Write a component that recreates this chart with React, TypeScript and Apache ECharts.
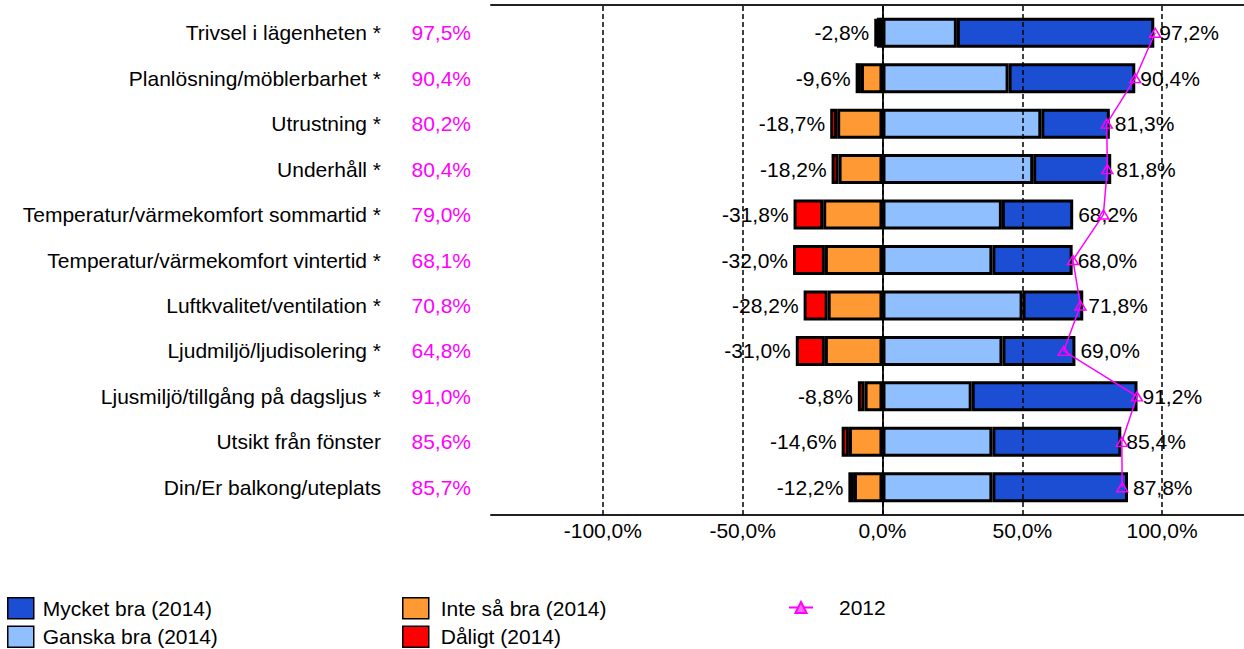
import React, { useEffect, useRef } from 'react';
import * as echarts from 'echarts';

const categories = [
  'Trivsel i lägenheten *',
  'Planlösning/möblerbarhet *',
  'Utrustning *',
  'Underhåll *',
  'Temperatur/värmekomfort sommartid *',
  'Temperatur/värmekomfort vintertid *',
  'Luftkvalitet/ventilation *',
  'Ljudmiljö/ljudisolering *',
  'Ljusmiljö/tillgång på dagsljus *',
  'Utsikt från fönster',
  'Din/Er balkong/uteplats',
];

const mycketBra = [70.6, 45.3, 24.5, 27.9, 25.5, 28.7, 21.7, 26.1, 59.3, 46.1, 48.5];
const ganskaBra = [26.6, 45.1, 56.8, 53.9, 42.7, 39.3, 50.1, 42.9, 31.9, 39.3, 39.3];
const inteSaBra = [2.0, 7.7, 16.2, 15.7, 21.2, 20.6, 19.6, 20.6, 6.4, 12.0, 10.2];
const daligt = [0.8, 1.9, 2.5, 2.5, 10.6, 11.4, 8.6, 10.4, 2.4, 2.6, 2.0];
const values2012 = [97.5, 90.4, 80.2, 80.4, 79.0, 68.1, 70.8, 64.8, 91.0, 85.6, 85.7];
const xTickValues = [-100, -50, 0, 50, 100];

const fmt = (v: number) => (Math.round(v * 10) / 10).toFixed(1).replace('.', ',') + '%';

export default function App() {
  const ref = useRef<HTMLDivElement>(null);
  useEffect(() => {
    const chart = echarts.init(ref.current as HTMLDivElement, null, { renderer: 'svg' });
    const font = '"Liberation Sans", Arial, sans-serif';
    const frameLine = { show: true, lineStyle: { color: '#222', width: 2 } };
    const barBase = {
      type: 'bar',
      stack: 'total',
      xAxisIndex: 0,
      yAxisIndex: 0,
      barWidth: 30,
    };
    const legendBase = {
      top: 597,
      orient: 'vertical',
      padding: 0,
      itemWidth: 26,
      itemHeight: 21,
      itemGap: 6,
      icon: 'rect',
      selectedMode: false,
      itemStyle: { borderWidth: 1.5, borderColor: '#000' },
    };
    chart.setOption({
      animation: false,
      textStyle: { fontFamily: font },
      grid: [
        { left: 491, top: 10, width: 755, height: 500, show: false, outerBoundsMode: 'none', containLabel: false },
        { left: 491, top: 5, width: 755, height: 510, show: false, outerBoundsMode: 'none', containLabel: false },
      ],
      xAxis: [
        { type: 'value', gridIndex: 0, min: -140, max: 130, show: false },
        {
          type: 'value',
          gridIndex: 1,
          position: 'bottom',
          min: -140,
          max: 130,
          interval: 10,
          axisLine: frameLine,
          axisTick: { show: false },
          splitLine: { show: false },
          axisLabel: {
            margin: 5,
            fontSize: 21,
            color: '#000',
            fontFamily: font,
            formatter: (v: number) => (Math.round(v) % 50 === 0 ? fmt(v) : ''),
          },
        },
        {
          type: 'value',
          gridIndex: 1,
          position: 'top',
          min: -140,
          max: 130,
          axisLine: frameLine,
          axisTick: { show: false },
          axisLabel: { show: false },
          splitLine: { show: false },
        },
      ],
      yAxis: [
        {
          type: 'category',
          gridIndex: 0,
          inverse: true,
          position: 'left',
          data: categories,
          axisLine: { show: false },
          axisTick: { show: false },
          axisLabel: { margin: 110, fontSize: 21, color: '#000', fontFamily: font },
        },
        {
          type: 'category',
          gridIndex: 0,
          inverse: true,
          position: 'left',
          data: values2012.map(fmt),
          axisLine: { show: false },
          axisTick: { show: false },
          axisLabel: { margin: 20, fontSize: 21, color: '#FF00FF', fontFamily: font },
        },
        {
          type: 'value',
          gridIndex: 1,
          position: 'left',
          min: 0,
          max: 1,
          axisLine: frameLine,
          axisTick: { show: false },
          axisLabel: { show: false },
          splitLine: { show: false },
        },
      ],
      legend: [
        {
          ...legendBase,
          left: 7,
          data: ['Mycket bra (2014)', 'Ganska bra (2014)'],
          textStyle: { fontSize: 21, color: '#000', fontFamily: font, padding: [0, 0, 0, 4] },
        },
        {
          ...legendBase,
          left: 402,
          data: ['Inte så bra (2014)', 'Dåligt (2014)'],
          textStyle: { fontSize: 21, color: '#000', fontFamily: font, padding: [0, 0, 0, 7] },
        },
        {
          top: 597,
          left: 788,
          padding: 0,
          itemWidth: 24,
          itemHeight: 14,
          selectedMode: false,
          data: ['2012'],
          itemStyle: { color: '#FF66FF', borderColor: '#FF00FF', borderWidth: 2 },
          textStyle: { fontSize: 21, color: '#000', fontFamily: font, padding: [0, 0, 0, 21] },
        },
      ],
      series: [
        {
          type: 'line',
          name: 'grid',
          xAxisIndex: 1,
          yAxisIndex: 2,
          data: [],
          silent: true,
          z: 1,
          markLine: {
            silent: true,
            symbol: ['none', 'none'],
            label: { show: false },
            lineStyle: { color: '#000', type: [5, 3], width: 1.5 },
            data: xTickValues.map((v) => ({ xAxis: v })),
          },
        },
        {
          ...barBase,
          name: 'Ganska bra (2014)',
          data: ganskaBra,
          itemStyle: { color: '#8FBFFF', borderColor: '#000', borderWidth: 3 },
        },
        {
          ...barBase,
          name: 'Mycket bra (2014)',
          data: mycketBra,
          itemStyle: { color: '#1C4ED4', borderColor: '#000', borderWidth: 3 },
          label: {
            show: true,
            position: 'right',
            distance: 5,
            fontSize: 21,
            color: '#000',
            fontFamily: font,
            formatter: (p: any) => fmt(ganskaBra[p.dataIndex] + mycketBra[p.dataIndex]),
          },
        },
        {
          ...barBase,
          name: 'Inte så bra (2014)',
          data: inteSaBra.map((v) => -v),
          itemStyle: { color: '#FF9933', borderColor: '#000', borderWidth: 3 },
        },
        {
          ...barBase,
          name: 'Dåligt (2014)',
          data: daligt.map((v) => -v),
          itemStyle: { color: '#FF0000', borderColor: '#000', borderWidth: 3 },
          label: {
            show: true,
            position: 'left',
            distance: 5,
            fontSize: 21,
            color: '#000',
            fontFamily: font,
            formatter: (p: any) => fmt(-(daligt[p.dataIndex] + inteSaBra[p.dataIndex])),
          },
        },
        {
          type: 'line',
          name: '2012',
          xAxisIndex: 0,
          yAxisIndex: 0,
          data: values2012,
          symbol: 'triangle',
          symbolSize: [11, 9],
          z: 5,
          lineStyle: { color: '#FF00FF', width: 1.5 },
          itemStyle: { color: 'rgba(255,255,255,0)', borderColor: '#FF00FF', borderWidth: 1.5 },
        },
      ],
    });
    return () => {
      chart.dispose();
    };
  }, []);
  return (
    <div
      ref={ref}
      style={{ position: 'absolute', left: 0, top: 0, width: 1244, height: 649 }}
    />
  );
}
